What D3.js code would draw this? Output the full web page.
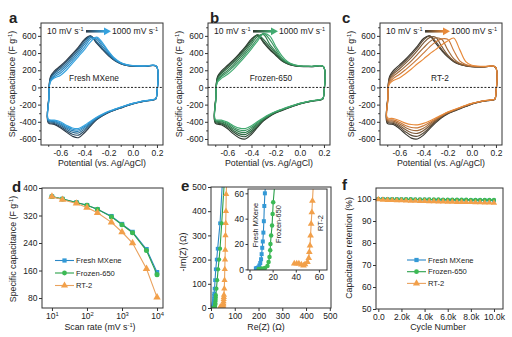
<!DOCTYPE html>
<html>
<head>
<meta charset="utf-8">
<script src="https://cdn.jsdelivr.net/npm/d3@7"></script>
<style>
body{margin:0;background:#fff;}
svg text{font-family:"Liberation Sans",Arial,Helvetica,sans-serif;fill:#222;}
</style>
</head>
<body>
<svg id="fig" width="512" height="337"></svg>
<script>
// ---- a-c: CV loops, potential grid shared by all curves ----
var cvUpperE = [-0.695,-0.69,-0.68,-0.65,-0.6,-0.55,-0.5,-0.45,-0.4,-0.35,-0.3,-0.25,-0.2,-0.15,-0.1,-0.05,0,0.1,0.195]
var cvLowerE = [0.2,0.19,0.15,0.1,0.05,0,-0.05,-0.1,-0.15,-0.2,-0.25,-0.3,-0.35,-0.4,-0.45,-0.5,-0.55,-0.6,-0.65,-0.7]

// 10 mV/s (first) ... 1000 mV/s (last)
var freshUpper = [
  [-100,60,130,190,250,315,390,470,560,600,515,440,368,312,275,256,248,245,245],
  [-110,55,120,175,235,300,375,455,545,598,525,445,375,314,277,257,249,246,246],
  [-120,45,105,160,215,280,355,435,525,595,535,455,380,318,280,259,250,247,246],
  [-130,35,90,140,190,255,330,410,500,580,560,475,395,325,283,261,252,248,247],
  [-140,25,80,125,165,230,305,385,470,560,575,500,410,333,287,263,253,249,247],
  [-150,20,70,110,140,200,280,360,440,530,585,520,420,340,290,265,255,250,248]
]
var freshLower = [
  [-60,-135,-150,-160,-175,-192,-215,-240,-265,-292,-330,-378,-450,-527,-585,-568,-520,-468,-430,-412],
  [-60,-134,-149,-159,-173,-191,-213,-238,-263,-290,-327,-372,-438,-505,-555,-545,-503,-455,-420,-402],
  [-60,-133,-148,-158,-172,-189,-211,-236,-261,-287,-323,-366,-425,-485,-530,-522,-485,-440,-408,-393],
  [-60,-132,-147,-157,-170,-188,-209,-233,-258,-284,-319,-360,-413,-468,-510,-503,-468,-426,-397,-384],
  [-60,-131,-146,-156,-169,-186,-207,-230,-255,-281,-315,-354,-402,-454,-493,-487,-454,-413,-388,-377],
  [-60,-130,-145,-155,-168,-185,-205,-228,-252,-278,-310,-348,-392,-440,-478,-472,-440,-400,-380,-370]
]
var frozenUpper = [
  [-100,60,130,190,255,320,395,475,565,605,520,440,375,310,272,253,245,242,242],
  [-110,55,120,175,240,305,380,460,550,612,535,455,385,315,275,255,246,243,242],
  [-120,45,105,160,220,285,360,440,530,612,560,475,400,322,279,257,247,244,243],
  [-130,35,90,140,195,260,335,415,505,592,615,505,420,330,284,259,248,244,243],
  [-140,25,80,125,175,240,310,390,475,565,630,560,450,345,290,262,250,245,243],
  [-150,20,65,105,150,210,285,365,450,540,625,600,480,370,298,266,252,246,244]
]
var frozenLower = [
  [-60,-135,-150,-160,-175,-193,-217,-243,-270,-298,-338,-390,-465,-545,-600,-588,-540,-478,-435,-415],
  [-60,-134,-149,-159,-174,-191,-214,-240,-266,-294,-333,-382,-450,-522,-572,-562,-518,-462,-423,-405],
  [-60,-133,-148,-158,-172,-189,-212,-237,-263,-290,-328,-375,-437,-502,-548,-540,-500,-447,-412,-396],
  [-60,-132,-147,-157,-171,-188,-210,-234,-260,-287,-323,-368,-424,-482,-524,-517,-480,-432,-400,-387],
  [-60,-131,-146,-156,-170,-186,-208,-232,-257,-283,-318,-360,-410,-463,-500,-495,-462,-418,-390,-379],
  [-60,-130,-145,-155,-169,-185,-206,-229,-254,-280,-313,-352,-397,-445,-478,-474,-445,-404,-380,-371]
]
var rtUpper = [
  [-100,60,130,195,260,325,400,480,570,600,515,430,355,300,268,250,242,238,236],
  [-110,50,115,175,240,305,380,460,550,600,535,445,365,305,270,252,243,239,236],
  [-120,40,100,155,215,280,350,430,515,580,585,480,380,312,274,254,244,239,237],
  [-130,30,85,130,185,245,310,385,460,530,575,560,440,335,282,258,246,240,237],
  [-140,20,65,105,150,205,265,330,400,470,530,565,560,430,310,268,250,242,238],
  [-150,10,45,80,110,160,215,275,330,390,440,495,540,575,440,300,258,245,239]
]
var rtLower = [
  [-60,-140,-150,-160,-175,-195,-222,-250,-278,-308,-352,-412,-482,-555,-600,-590,-540,-478,-432,-418],
  [-60,-139,-149,-159,-174,-193,-219,-246,-274,-303,-345,-400,-465,-530,-568,-558,-515,-458,-418,-405],
  [-60,-138,-148,-158,-172,-191,-216,-243,-270,-298,-338,-388,-446,-502,-535,-527,-490,-440,-405,-392],
  [-60,-137,-147,-157,-171,-189,-213,-240,-266,-294,-332,-376,-426,-474,-502,-496,-465,-422,-392,-380],
  [-60,-136,-146,-156,-170,-187,-210,-237,-263,-290,-326,-366,-408,-446,-470,-466,-442,-405,-378,-368],
  [-60,-135,-145,-155,-169,-186,-208,-234,-260,-287,-320,-355,-390,-418,-435,-432,-415,-385,-362,-352]
]
var freshCols = ["#2f3b48","#2c4f6a","#2a6a92","#2a7fb5","#2a90cc","#36a2de"]
var frozenCols = ["#2e3a30","#2f5038","#2f6a44","#338050","#3a9460","#42aa70"]
var rtCols = ["#3a3830","#5a4a38","#7a5838","#a06a3a","#c8783a","#e88a3a"]

// ---- d: rate capability ----
var scanRates = [10,20,50,100,200,500,1000,2000,5000,10000]
var capFresh = [375,368,358,350,338,318,295,272,222,155]
var capFrozen = [375,368,358,350,338,316,293,270,218,148]
var capRT = [375,366,355,343,328,300,272,240,165,82]

// ---- e: Nyquist ----
var reFresh = [5.5,6.5,7.5,8.5,9.3,10,10.5,11,11.5,12,12.4,12.8,13.3,15,17,20,24,28,38,48]
var imFresh = [0.8,1,1.5,3,5,8,12,17,22,29,38,50,60,80,115,160,200,245,350,520]
var reFrozen = [8,10.7,13.3,15.5,16.5,17.3,17.9,18.1,18.7,19.5,20,20.5,23,26,30,34,38,45,56]
var imFrozen = [0.3,0.6,1,2.6,5.8,9.7,15,20,26.7,34.6,43.7,52.9,80,115,160,200,245,350,520]
var reRT = [38.7,40.8,42.7,44.8,46.7,48,50.1,51.2,51.7,52.3,52.8,53.3,53.9,54.4,56,57,58,59,60,61,62,63,64,66]
var imRT = [4.5,4.5,4.5,3.7,3,4,5.8,8.9,13.6,18.8,26.7,35.9,45,54,80,115,160,200,240,300,350,400,470,530]

// ---- f: cycling ----
var cycles = [0,400,800,1200,1600,2000,2400,2800,3200,3600,4000,4400,4800,5200,5600,6000,6400,6800,7200,7600,8000,8400,8800,9200,9600,10000]
var retFresh = [100,100,99.9,99.9,99.9,99.8,99.8,99.8,99.7,99.7,99.7,99.7,99.6,99.6,99.6,99.6,99.5,99.5,99.5,99.5,99.4,99.4,99.4,99.4,99.3,99.3]
var retFrozen = [100,100,100,99.9,99.9,99.9,99.9,99.9,99.8,99.8,99.8,99.8,99.8,99.8,99.7,99.7,99.7,99.7,99.7,99.7,99.6,99.6,99.6,99.6,99.6,99.6]
var retRT = [99.8,99.6,99.5,99.4,99.3,99.3,99.2,99.1,99.1,99.0,99.0,98.9,98.9,98.8,98.8,98.7,98.7,98.6,98.6,98.5,98.5,98.4,98.4,98.3,98.3,98.2]

var seriesNames = ["Fresh MXene","Frozen-650","RT-2"]
var markCol = ["#3399d6","#3cba54","#f2a04a"]
var lineCol = ["#2b88c6","#2aa04a","#eaa25e"]
var symbols = [d3.symbolSquare, d3.symbolCircle, d3.symbolTriangle]

var svg = d3.select("#fig")
var defs = svg.append("defs")
var hy = function(s){ return s.replace("\u2212","-") }
var TICK = 8.5, TITLE = 8.8

function rich(g, x, y, parts, fs, anchor) {
  var t = g.append("text").attr("x", x).attr("y", y).attr("font-size", fs)
    .attr("text-anchor", anchor || "start")
  parts.forEach(function(p){
    var s = t.append("tspan").text(p[0])
    if (p[1]) s.attr("font-size", fs*0.65).attr("baseline-shift","super")
  })
  return t
}
function tidy(a, fs) {
  a.attr("font-family", null).attr("font-size", null)
  a.select(".domain").remove()
  a.selectAll(".tick line").attr("stroke","#333")
  a.selectAll(".tick text").attr("fill","#222").attr("font-size", fs)
  return a
}
function frame(g, x0, x1, y0, y1) {
  g.append("rect").attr("x",x0).attr("y",y0).attr("width",x1-x0).attr("height",y1-y0)
    .attr("fill","none").attr("stroke","#333").attr("stroke-width",1)
}
function panelLetter(x, y, s) {
  svg.append("text").attr("x",x).attr("y",y).attr("font-size",15).attr("font-weight","bold").attr("fill","#111").text(s)
}
function yTitle(g, x, y, parts, fs) {
  rich(g, x, y, parts, fs, "middle").attr("transform","rotate(-90,"+x+","+y+")")
}

// ---------- a, b, c ----------
function cvPanel(o) {
  var g = svg.append("g")
  var x = d3.scaleLinear().domain([-0.76,0.25]).range([o.x0,o.x1])
  var y = d3.scaleLinear().domain([-670,750]).range([145,23])
  var line = d3.line().x(function(d){return x(d[0])}).y(function(d){return y(d[1])})
    .curve(d3.curveCatmullRomClosed.alpha(0.5))
  var loops = o.upper.map(function(up,k){
    return cvUpperE.map(function(e,i){return [e, up[i]]})
      .concat(cvLowerE.map(function(e,i){return [e, o.lower[k][i]]}))
  })
  g.selectAll("path.cv").data(loops).enter().append("path")
    .attr("d", line)
    .attr("fill","none").attr("stroke", function(d,k){return o.cols[k]}).attr("stroke-width",1.15)
  g.append("line").attr("x1",o.x0).attr("x2",o.x1).attr("y1",y(0)).attr("y2",y(0))
    .attr("stroke","#222").attr("stroke-width",1).attr("stroke-dasharray","2,1.6")
  frame(g, o.x0, o.x1, 23, 145)
  tidy(g.append("g").attr("transform","translate(0,145)")
    .call(d3.axisBottom(x).tickValues([-0.6,-0.4,-0.2,0,0.2]).tickSize(3).tickPadding(2)
      .tickFormat(function(d){return hy(d3.format(".1f")(d))})), TICK)
  tidy(g.append("g").attr("transform","translate(0,145)")
    .call(d3.axisBottom(x).tickValues([-0.7,-0.5,-0.3,-0.1,0.1]).tickSize(1.8).tickFormat("")), TICK)
  tidy(g.append("g").attr("transform","translate("+o.x0+",0)")
    .call(d3.axisLeft(y).tickValues([-600,-400,-200,0,200,400,600]).tickSize(3).tickPadding(1.5)
      .tickFormat(function(d){return hy(d3.format("d")(d))})), TICK)
  tidy(g.append("g").attr("transform","translate("+o.x0+",0)")
    .call(d3.axisLeft(y).tickValues([-500,-300,-100,100,300,500,700]).tickSize(1.8).tickFormat("")), TICK)
  rich(g, (o.x0+o.x1)/2, 166, [["Potential (vs. Ag/AgCl)"]], TITLE, "middle")
  yTitle(g, o.x0-26, 84, [["Specific capacitance (F g"],["-1",1],[")"]], TITLE)
  g.append("text").attr("x", o.x0+o.lab).attr("y", 81).attr("text-anchor","middle")
    .attr("font-size",8.3).text(o.name)
  // scan-rate arrow legend
  var gid = "gr"+o.id
  var gr = defs.append("linearGradient").attr("id",gid)
  gr.append("stop").attr("offset","0%").attr("stop-color",o.cols[0])
  gr.append("stop").attr("offset","100%").attr("stop-color",o.cols[5])
  rich(g, o.x0+6, 34, [["10 mV s"],["-1",1]], 8.6).attr("fill","#333")
  g.append("rect").attr("x",o.x0+45).attr("y",30).attr("width",19).attr("height",2.6).attr("fill","url(#"+gid+")")
  g.append("path").attr("d","M"+(o.x0+63)+",27.4L"+(o.x0+70)+",31.3L"+(o.x0+63)+",35.2Z").attr("fill",o.cols[5])
  rich(g, o.x0+71, 34, [["1000 mV s"],["-1",1]], 8.6).attr("fill",o.cols[5])
}
cvPanel({id:"a", x0:41, x1:163, upper:freshUpper, lower:freshLower, cols:freshCols, name:"Fresh MXene", lab:53})
cvPanel({id:"b", x0:208, x1:330, upper:frozenUpper, lower:frozenLower, cols:frozenCols, name:"Frozen-650", lab:63})
cvPanel({id:"c", x0:380, x1:502, upper:rtUpper, lower:rtLower, cols:rtCols, name:"RT-2", lab:60})
panelLetter(9, 23, "a")
panelLetter(210, 23, "b")
panelLetter(342, 23, "c")

// helper for marker series
function drawSeries(g, xs, ys, xv, yv, k, size, clip) {
  var pts = xv.map(function(v,i){return [v, yv[i]]})
  var sg = g.append("g")
  if (clip) sg.attr("clip-path","url(#"+clip+")")
  sg.append("path").datum(pts)
    .attr("d", d3.line().x(function(d){return xs(d[0])}).y(function(d){return ys(d[1])}))
    .attr("fill","none").attr("stroke",lineCol[k]).attr("stroke-width",1.1)
  sg.selectAll("path.m").data(pts).enter().append("path")
    .attr("transform", function(d){return "translate("+xs(d[0])+","+ys(d[1])+")"})
    .attr("d", d3.symbol().type(symbols[k]).size(k==2 ? size*1.2 : size))
    .attr("fill", markCol[k])
}
function legend(g, x, ys) {
  seriesNames.forEach(function(n,k){
    g.append("line").attr("x1",x).attr("x2",x+19).attr("y1",ys[k]).attr("y2",ys[k])
      .attr("stroke",lineCol[k]).attr("stroke-width",1.1)
    g.append("path").attr("transform","translate("+(x+9.5)+","+ys[k]+")")
      .attr("d", d3.symbol().type(symbols[k]).size(k==2 ? 22 : 18)).attr("fill",markCol[k])
    g.append("text").attr("x",x+21).attr("y",ys[k]+2.7).attr("font-size",7.6).text(n)
  })
}

// ---------- d ----------
;(function(){
  var g = svg.append("g")
  var x = d3.scaleLog().domain([5.2,14800]).range([42,163])
  var y = d3.scaleLinear().domain([51,400]).range([308,188])
  drawSeries(g, x, y, scanRates, capFresh, 0, 20)
  drawSeries(g, x, y, scanRates, capFrozen, 1, 20)
  drawSeries(g, x, y, scanRates, capRT, 2, 20)
  frame(g, 42, 163, 188, 308)
  var ax = tidy(g.append("g").attr("transform","translate(0,308)")
    .call(d3.axisBottom(x).tickValues([10,100,1000,10000]).tickSize(3).tickPadding(2)), TICK)
  ax.selectAll(".tick text").each(function(d){
    var t = d3.select(this).text(null)
    t.append("tspan").text("10")
    t.append("tspan").attr("font-size",5.8).attr("baseline-shift","super").text(Math.round(Math.log10(d)))
  })
  tidy(g.append("g").attr("transform","translate(42,0)")
    .call(d3.axisLeft(y).tickValues([80,160,240,320,400]).tickSize(3).tickPadding(1.5)), TICK)
  legend(g, 55, [260.5,273,285.5])
  rich(g, 100, 330, [["Scan rate (mV s"],["-1",1],[")"]], TITLE, "middle")
  yTitle(g, 16, 249, [["Specific capacitance (F g"],["-1",1],[")"]], TITLE)
})()
panelLetter(12, 192, "d")

// ---------- e ----------
;(function(){
  var g = svg.append("g")
  var x = d3.scaleLinear().domain([0,505]).range([211,331])
  var y = d3.scaleLinear().domain([0,500]).range([308,187])
  defs.append("clipPath").attr("id","clipE").append("rect").attr("x",211).attr("y",187).attr("width",120).attr("height",121)
  defs.append("clipPath").attr("id","clipI").append("rect").attr("x",248).attr("y",189).attr("width",79).attr("height",81)
  drawSeries(g, x, y, reFresh, imFresh, 0, 14, "clipE")
  drawSeries(g, x, y, reFrozen, imFrozen, 1, 14, "clipE")
  drawSeries(g, x, y, reRT, imRT, 2, 14, "clipE")
  frame(g, 211, 331, 187, 308)
  tidy(g.append("g").attr("transform","translate(0,308)")
    .call(d3.axisBottom(x).tickValues([0,100,200,300,400,500]).tickSize(3).tickPadding(2)), TICK)
  tidy(g.append("g").attr("transform","translate(211,0)")
    .call(d3.axisLeft(y).tickValues([0,100,200,300,400,500]).tickSize(3).tickPadding(1.5)), TICK)
  rich(g, 266, 330, [["Re(Z) (\u03a9)"]], TITLE, "middle")
  yTitle(g, 186, 252, [["-Im(Z) (\u03a9)"]], TITLE)
  // inset
  var ix = d3.scaleLinear().domain([-1.3,67]).range([248,327])
  var iy = d3.scaleLinear().domain([-0.5,63.4]).range([270,189])
  g.append("rect").attr("x",248).attr("y",189).attr("width",79).attr("height",81).attr("fill","#fff")
  drawSeries(g, ix, iy, reFresh, imFresh, 0, 16, "clipI")
  drawSeries(g, ix, iy, reFrozen, imFrozen, 1, 16, "clipI")
  drawSeries(g, ix, iy, reRT, imRT, 2, 16, "clipI")
  frame(g, 248, 327, 189, 270)
  tidy(g.append("g").attr("transform","translate(0,270)")
    .call(d3.axisBottom(ix).tickValues([0,20,40,60]).tickSize(2.5).tickPadding(1.5)), TICK)
  tidy(g.append("g").attr("transform","translate(248,0)")
    .call(d3.axisLeft(iy).tickValues([0,20,40,60]).tickSize(2.5).tickPadding(1.5)), TICK)
  yTitle(g, 258, 225, [["Fresh MXene"]], 7.4)
  yTitle(g, 280.5, 224, [["Frozen-650"]], 7.4)
  yTitle(g, 322.5, 223, [["RT-2"]], 7.4)
})()
panelLetter(181, 191, "e")

// ---------- f ----------
;(function(){
  var g = svg.append("g")
  var x = d3.scaleLinear().domain([-200,10780]).range([376,503])
  var y = d3.scaleLinear().domain([50,105]).range([309,188])
  drawSeries(g, x, y, cycles, retFresh, 0, 14)
  drawSeries(g, x, y, cycles, retFrozen, 1, 14)
  drawSeries(g, x, y, cycles, retRT, 2, 14)
  frame(g, 376, 503, 188, 309)
  tidy(g.append("g").attr("transform","translate(0,309)")
    .call(d3.axisBottom(x).tickValues([0,2000,4000,6000,8000,10000]).tickSize(3).tickPadding(2)
      .tickFormat(function(d){return d===0 ? "0.0" : (d/1000).toFixed(1)+"k"})), TICK)
  tidy(g.append("g").attr("transform","translate(376,0)")
    .call(d3.axisLeft(y).tickValues([50,60,70,80,90,100]).tickSize(3).tickPadding(1.5)), TICK)
  legend(g, 407, [260,271.7,283.4])
  rich(g, 438, 330, [["Cycle Number"]], TITLE, "middle")
  yTitle(g, 352, 248, [["Capacitance retention (%)"]], TITLE)
})()
panelLetter(342, 190, "f")
</script>
</body>
</html>
